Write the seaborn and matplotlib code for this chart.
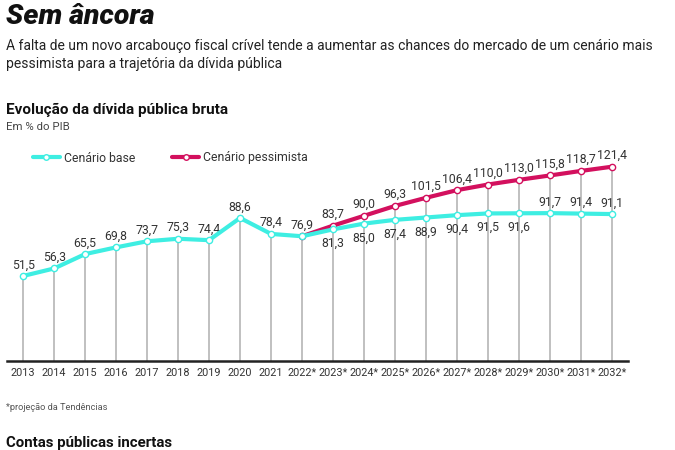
import pandas as pd
import matplotlib.pyplot as plt
import seaborn as sns
from matplotlib.lines import Line2D

# Dados do gráfico (em % do PIB)
anos = ['2013', '2014', '2015', '2016', '2017', '2018', '2019', '2020', '2021', '2022*',
        '2023*', '2024*', '2025*', '2026*', '2027*', '2028*', '2029*', '2030*', '2031*', '2032*']
cenario_base = [51.5, 56.3, 65.5, 69.8, 73.7, 75.3, 74.4, 88.6, 78.4, 76.9,
                81.3, 85.0, 87.4, 88.9, 90.4, 91.5, 91.6, 91.7, 91.4, 91.1]
anos_pess = ['2022*', '2023*', '2024*', '2025*', '2026*', '2027*', '2028*', '2029*', '2030*', '2031*', '2032*']
cenario_pess = [76.9, 83.7, 90.0, 96.3, 101.5, 106.4, 110.0, 113.0, 115.8, 118.7, 121.4]
# rótulos do cenário base que ficam abaixo do ponto
base_abaixo = ['2023*', '2024*', '2025*', '2026*', '2027*', '2028*', '2029*']

CIANO = '#3eeee2'
MAGENTA = '#d3105e'
TEXTO = '#333333'

sns.set_style('white')
plt.rcParams['font.family'] = ['Roboto', 'DejaVu Sans']

df_base = pd.DataFrame({'pos': range(len(anos)), 'valor': cenario_base})
df_pess = pd.DataFrame({'pos': [anos.index(a) for a in anos_pess], 'valor': cenario_pess})

fig = plt.figure(figsize=(6.75, 4.5), dpi=100)
ax = fig.add_axes([0.0104, 0.1978, 0.92, 0.4689])

# linhas verticais do chão até o ponto mais alto
topo = df_base.set_index('pos')['valor'].copy()
for p, v in zip(df_pess['pos'], df_pess['valor']):
    topo[p] = max(topo[p], v)
ax.vlines(topo.index, -2.9, topo.values, color='#b5b5b5', lw=1.2, zorder=1)

sns.lineplot(data=df_pess, x='pos', y='valor', ax=ax, color=MAGENTA, lw=3.0,
             marker='o', markersize=4.5, markerfacecolor='white', markeredgecolor=MAGENTA,
             markeredgewidth=1.0, zorder=3)
sns.lineplot(data=df_base, x='pos', y='valor', ax=ax, color=CIANO, lw=3.0,
             marker='o', markersize=4.5, markerfacecolor='white', markeredgecolor=CIANO,
             markeredgewidth=1.0, zorder=4)

def fmt(v):
    return f'{v:.1f}'.replace('.', ',')

for i, (a, v) in enumerate(zip(anos, cenario_base)):
    if a in base_abaixo:
        ax.text(i, v - 5, fmt(v), ha='center', va='top', fontsize=8.8, color=TEXTO)
    else:
        ax.text(i, v + 3, fmt(v), ha='center', va='bottom', fontsize=8.8, color=TEXTO)
for a, v in zip(anos_pess[1:], cenario_pess[1:]):
    ax.text(anos.index(a), v + 3, fmt(v), ha='center', va='bottom', fontsize=8.8, color=TEXTO)

ax.set_xlim(-0.52, len(anos) - 1 + 0.52)
ax.set_ylim(-2.9, 132.1)
ax.set_xticks(range(len(anos)))
ax.set_xticklabels(anos, fontsize=7.8, color=TEXTO)
ax.tick_params(axis='x', length=0, pad=5)
ax.set_yticks([])
ax.set_xlabel('')
ax.set_ylabel('')
for s in ['top', 'right', 'left']:
    ax.spines[s].set_visible(False)
ax.spines['bottom'].set_color('#222222')
ax.spines['bottom'].set_linewidth(1.8)

# legenda
handles = [
    Line2D([], [], color=CIANO, lw=3.0, marker='o', markersize=4,
           markerfacecolor='white', markeredgecolor=CIANO),
    Line2D([], [], color=MAGENTA, lw=3.0, marker='o', markersize=4,
           markerfacecolor='white', markeredgecolor=MAGENTA),
]
fig.legend(handles, ['Cenário base', 'Cenário pessimista'], loc='center left',
           bbox_to_anchor=(33 / 675, 1 - 158 / 450), ncol=2, frameon=False,
           fontsize=8.8, handlelength=2.2, handletextpad=0.35, columnspacing=3.0,
           labelcolor=TEXTO, borderpad=0, borderaxespad=0)

# textos
fig.text(0.009, 1 - 3 / 450, 'Sem âncora', fontsize=20.5, fontweight='black', fontstyle='italic',
         va='top', ha='left', color='#111111')
fig.text(0.009, 1 - 55 / 450,
         'A falta de um novo arcabouço fiscal crível tende a aumentar as chances do mercado de um cenário mais\n'
         'pessimista para a trajetória da dívida pública',
         fontsize=10, va='center', ha='left', color='#222222', linespacing=1.3)
fig.text(0.009, 1 - 110 / 450, 'Evolução da dívida pública bruta', fontsize=11,
         fontweight='bold', va='center', ha='left', color='#111111')
fig.text(0.009, 1 - 127 / 450, 'Em % do PIB', fontsize=8.2, va='center', ha='left', color='#444444')
fig.text(0.009, 1 - 407 / 450, '*projeção da Tendências', fontsize=6.7, va='center', ha='left',
         color='#555555')
fig.text(0.009, 1 - 436 / 450, 'Contas públicas incertas', fontsize=10.8,
         fontweight='bold', va='top', ha='left', color='#111111')

fig.savefig('out.png', dpi=100)
